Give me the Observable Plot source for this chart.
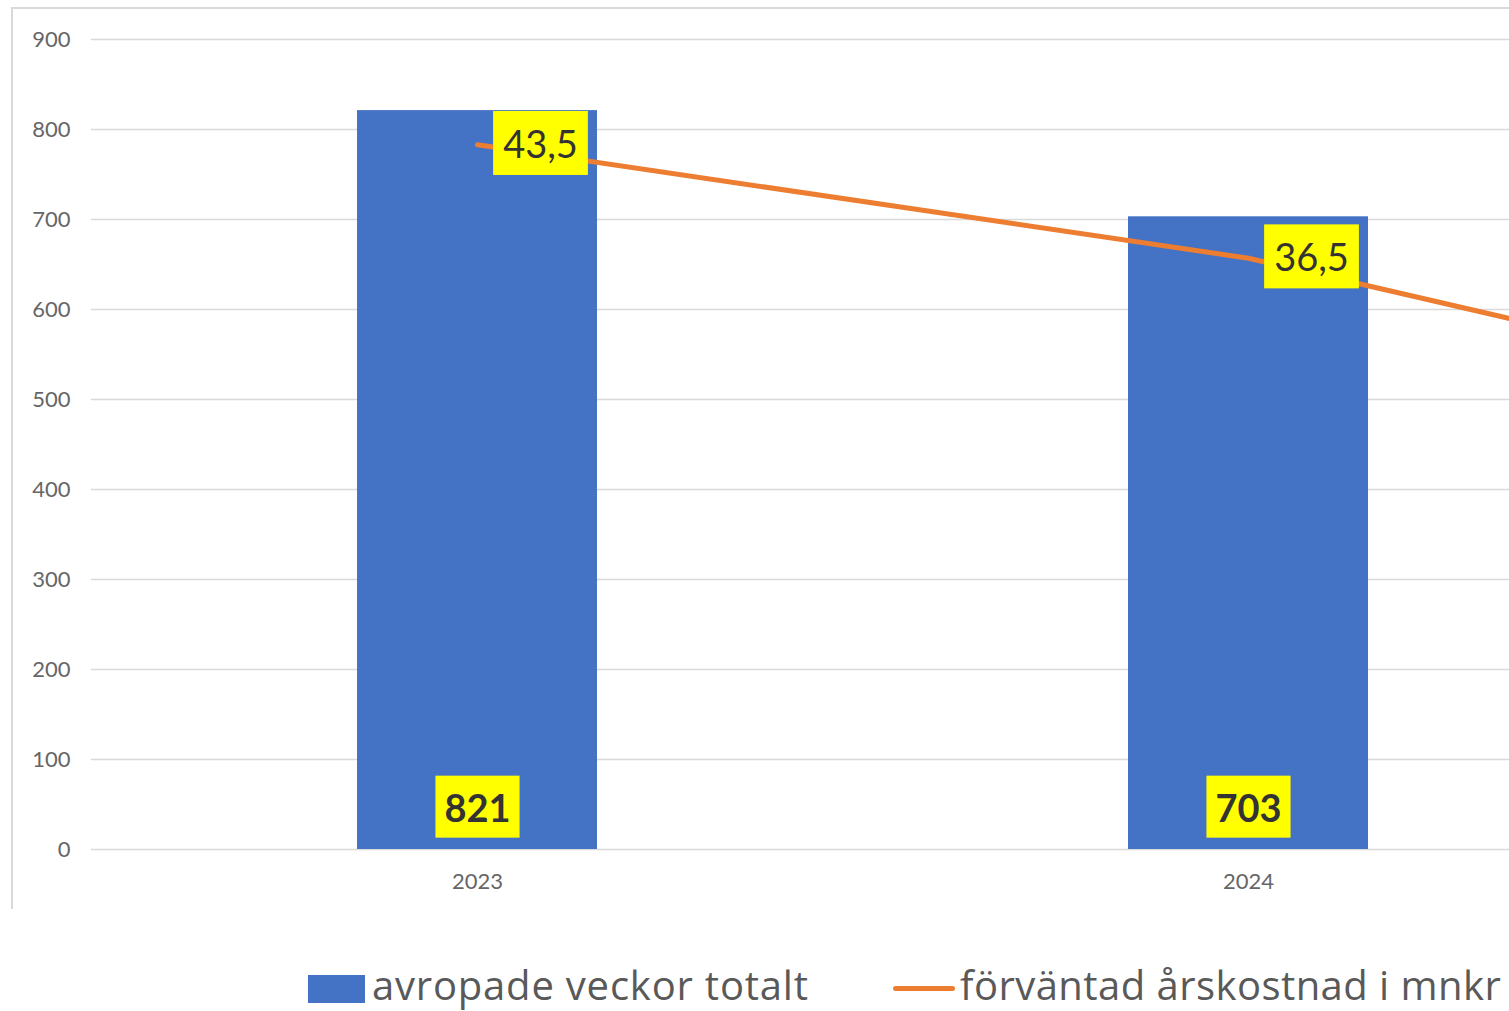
<!DOCTYPE html>
<html>
<head>
<meta charset="utf-8">
<script src="https://cdn.jsdelivr.net/npm/d3@7"></script>
<script src="https://cdn.jsdelivr.net/npm/@observablehq/plot@0.6"></script>
<style>
  html, body { margin: 0; padding: 0; background: #fff; overflow: hidden; }
  #wrap { position: relative; width: 1509px; height: 1011px; overflow: hidden; font-family: "Open Sans", Lato, sans-serif; }
  #border { position: absolute; left: 11px; top: 7px; width: 1700px; height: 900px;
            border-left: 2px solid #d9d9d9; border-top: 2px solid #d9d9d9; }
  #chart { position: absolute; left: 0; top: 0; }
  .sw-bar { position: absolute; left: 308px; top: 975px; width: 57px; height: 28px; background: #4472C4; }
  .sw-line { position: absolute; left: 893px; top: 986px; width: 62px; height: 5px; border-radius: 3px; background: #ED7D31; }
  .lt { position: absolute; top: 960px; font-size: 40px; letter-spacing: 0.8px; line-height: 50px; color: #595959; white-space: nowrap; }
</style>
</head>
<body>
<div id="wrap">
  <div id="border"></div>
  <div id="chart"></div>
  <div id="legend"></div>
</div>
<script>
// ---- data ----
const years = ["2023", "2024", "2025"];
const weekYears = ["2023", "2024"];
const weeks = [821, 703];                 // avropade veckor totalt
const cost = [43.5, 36.5, 25.5];          // förväntad årskostnad i mnkr (secondary axis)
const costLabelYears = ["2023", "2024"];
const yTicks = [0, 100, 200, 300, 400, 500, 600, 700, 800, 900];
const xTickLabels = ["2023", "2024"];
const seriesNames = ["avropade veckor totalt", "förväntad årskostnad i mnkr"];
const primaryMax = 900;
const secondaryMax = 50;

const barData = weekYears.map((y, i) => ({year: y, weeks: weeks[i]}));
const lineData = years.map((y, i) => ({year: y, cost: cost[i]}));
const toPrimary = v => v * primaryMax / secondaryMax;
const fmt = v => String(v).replace(".", ",");

const chart = Plot.plot({
  width: 1509,
  height: 910,
  marginLeft: 91,
  marginRight: 0,
  marginTop: 39,
  marginBottom: 61,
  style: {fontFamily: "Lato, 'Open Sans', sans-serif", fontSize: "22px", color: "#666666", background: "transparent", overflow: "hidden"},
  x: {type: "band", domain: years, range: [91.5, 2404.5], paddingInner: 0.689, paddingOuter: 0.3445, align: 0.5,
      label: null, ticks: xTickLabels, tickSize: 0, tickPadding: 24},
  y: {domain: [0, primaryMax], ticks: yTicks, tickSize: 0, tickPadding: 21, label: null},
  marks: [
    Plot.ruleY(yTicks, {stroke: "#d9d9d9", strokeWidth: 1.6}),
    Plot.barY(barData, {x: "year", y: "weeks", fill: "#4472C4"}),
    Plot.line(lineData, {x: "year", y: d => toPrimary(d.cost), stroke: "#ED7D31", strokeWidth: 5, clip: "frame"}),
    Plot.text(barData, {x: "year", y: 0, dy: -40, text: d => String(d.weeks), fontSize: 38, fontWeight: "bold",
                        fill: "#333333", ariaDescription: "bar-label"}),
    Plot.text(lineData.filter(d => costLabelYears.includes(d.year)),
              {x: "year", y: d => toPrimary(d.cost), dx: 63, dy: 1, text: d => fmt(d.cost), fontSize: 38,
               fill: "#333333", ariaDescription: "line-label"})
  ]
});
document.getElementById("chart").appendChild(chart);

// yellow label boxes behind data labels
function boxes(group, padX, padY) {
  if (!group) return;
  group.querySelectorAll("text").forEach(t => {
    const b = t.getBBox();
    const r = document.createElementNS("http://www.w3.org/2000/svg", "rect");
    r.setAttribute("x", b.x - padX);
    r.setAttribute("y", b.y - padY);
    r.setAttribute("width", b.width + 2 * padX);
    r.setAttribute("height", b.height + 2 * padY);
    r.setAttribute("fill", "#FFFF00");
    const tr = t.getAttribute("transform");
    if (tr) r.setAttribute("transform", tr);
    t.parentNode.insertBefore(r, t);
  });
}
const textGroups = chart.querySelectorAll('g[aria-label="text"]');
boxes(chart.querySelector('g[aria-description="bar-label"]') || textGroups[0], 9, 8);
boxes(chart.querySelector('g[aria-description="line-label"]') || textGroups[1], 10, 9);

// legend
const legend = document.getElementById("legend");
legend.innerHTML =
  `<span class="sw-bar"></span><span class="lt" style="left:372px">${seriesNames[0]}</span>` +
  `<span class="sw-line"></span><span class="lt" style="left:960px;letter-spacing:0.45px">${seriesNames[1]}</span>`;
</script>
</body>
</html>
